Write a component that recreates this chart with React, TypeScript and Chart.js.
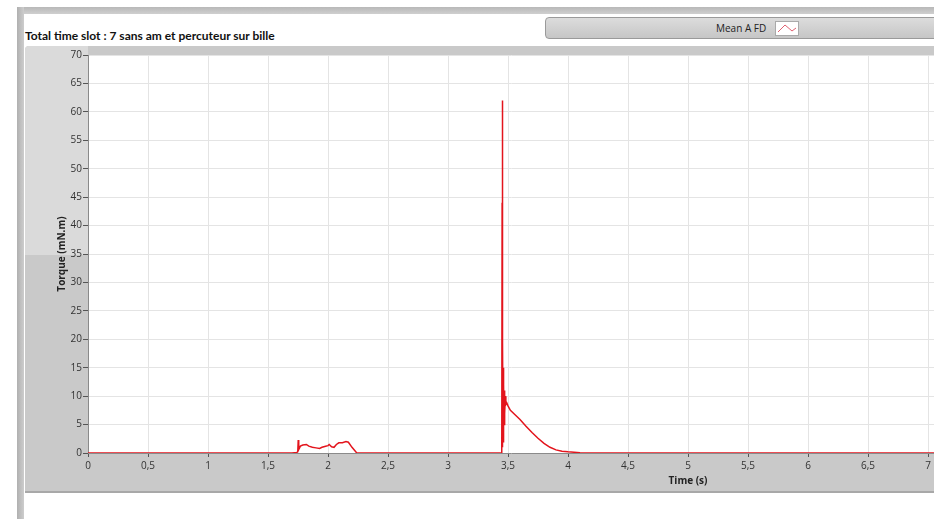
import React, { useEffect, useRef } from "react";
import { Chart, registerables } from "chart.js";

Chart.register(...registerables);

const TITLE = "Total time slot : 7 sans am et percuteur sur bille";
const SERIES_NAME = "Mean A FD";
const X_LABEL = "Time (s)";
const Y_LABEL = "Torque (mN.m)";

const X_MIN = 0;
const X_MAX = 7.05;
const X_TICKS = [0, 0.5, 1, 1.5, 2, 2.5, 3, 3.5, 4, 4.5, 5, 5.5, 6, 6.5, 7];
const Y_MIN = 0;
const Y_MAX = 70;
const Y_STEP = 5;

const timeS = [
  0, 1.7, 1.74, 1.748, 1.752, 1.756, 1.77, 1.79, 1.82, 1.84, 1.87, 1.9, 1.93,
  1.95, 1.98, 2.0, 2.01, 2.03, 2.05, 2.07, 2.09, 2.12, 2.15, 2.17, 2.2, 2.24,
  3.448, 3.451, 3.452, 3.453, 3.455, 3.457, 3.459, 3.461, 3.463, 3.465, 3.467,
  3.47, 3.474, 3.478, 3.482, 3.49, 3.5, 3.52, 3.55, 3.6, 3.65, 3.7, 3.75, 3.8,
  3.85, 3.9, 3.95, 4.0, 4.05, 4.1, 4.15, 7.05,
];

const torque = [
  0, 0, 0.1, 0.2, 2.3, 0.6, 1.2, 1.4, 1.5, 1.2, 1.0, 0.9, 0.8, 1.0, 1.2, 1.3,
  1.5, 1.1, 1.0, 1.5, 1.8, 1.8, 2.0, 1.9, 1.0, 0, 0, 44, 62, 44, 1, 19.5, 2, 15,
  4, 12, 5, 11, 7, 10, 8.5, 8.8, 8.3, 7.5, 6.9, 5.9, 4.7, 3.6, 2.6, 1.7, 1.0,
  0.55, 0.3, 0.2, 0.15, 0.05, 0, 0,
];

const FONT = "'Open Sans', 'Noto Sans', sans-serif";

export default function App() {
  const ref = useRef<HTMLCanvasElement | null>(null);

  useEffect(() => {
    const canvas = ref.current;
    if (!canvas) return;
    const points = timeS.map((t, i) => ({ x: t, y: torque[i] }));

    const decor = {
      id: "decor",
      beforeDraw(chart: any) {
        const { ctx, chartArea } = chart;
        ctx.save();
        ctx.fillStyle = "#ffffff";
        ctx.fillRect(
          chartArea.left,
          chartArea.top,
          chartArea.right - chartArea.left,
          chartArea.bottom - chartArea.top
        );
        ctx.restore();
      },
      afterDraw(chart: any) {
        const { ctx, chartArea } = chart;
        const xs = chart.scales.x;
        ctx.save();
        ctx.fillStyle = "#222";
        ctx.font = `bold 10px ${FONT}`;
        ctx.textAlign = "center";
        ctx.textBaseline = "middle";
        ctx.fillText(X_LABEL, xs.getPixelForValue(5), chartArea.bottom + 28);
        ctx.translate(chartArea.left - 26, (chartArea.top + chartArea.bottom) / 2);
        ctx.rotate(-Math.PI / 2);
        ctx.fillText(Y_LABEL, 0, 0);
        ctx.restore();
      },
    };

    const chart = new Chart(canvas, {
      type: "line",
      data: {
        datasets: [
          {
            label: SERIES_NAME,
            data: points,
            borderColor: "#e3141c",
            borderWidth: 1.5,
            pointRadius: 0,
            tension: 0,
            fill: false,
          },
        ],
      },
      options: {
        animation: false,
        responsive: false,
        maintainAspectRatio: false,
        parsing: false as any,
        layout: { padding: { top: 9, right: 0, left: 0, bottom: 0 } },
        plugins: {
          legend: { display: false },
          tooltip: { enabled: false },
          title: { display: false },
        },
        scales: {
          x: {
            type: "linear",
            min: X_MIN,
            max: X_MAX,
            afterFit: (s: any) => {
              s.height = 40;
            },
            afterBuildTicks: (s: any) => {
              s.ticks = X_TICKS.map((v) => ({ value: v }));
            },
            ticks: {
              font: { family: FONT, size: 10 },
              color: "#333",
              padding: 3,
              maxRotation: 0,
              autoSkip: false,
              callback: (v: any) => String(v).replace(".", ","),
            },
            grid: {
              color: "#e4e4e4",
              tickColor: "#555",
              tickLength: 4,
            },
            border: { color: "#8a8a8a" },
          },
          y: {
            type: "linear",
            min: Y_MIN,
            max: Y_MAX,
            afterFit: (s: any) => {
              s.width = 63;
            },
            ticks: {
              stepSize: Y_STEP,
              font: { family: FONT, size: 10 },
              color: "#333",
              padding: 1,
            },
            grid: {
              color: "#e4e4e4",
              tickColor: "#555",
              tickLength: 5,
            },
            border: { color: "#8a8a8a" },
          },
        },
      },
      plugins: [decor],
    });
    return () => chart.destroy();
  }, []);

  return (
    <div
      style={{
        position: "fixed",
        left: 0,
        top: 0,
        width: 934,
        height: 519,
        background: "#ffffff",
        overflow: "hidden",
        fontFamily: FONT,
      }}
    >
      <div
        style={{
          position: "absolute",
          left: 17,
          top: 7,
          width: 917,
          height: 7,
          background: "linear-gradient(#b8b8b8, #cfcfcf)",
        }}
      />
      <div
        style={{
          position: "absolute",
          left: 17,
          top: 7,
          width: 7,
          height: 512,
          background: "linear-gradient(90deg, #b0b0b0, #cdcdcd)",
        }}
      />
      <div
        style={{
          position: "absolute",
          left: 25,
          top: 29,
          fontFamily: "Lato, 'Open Sans', sans-serif",
          fontWeight: 700,
          fontSize: 12,
          color: "#111",
          whiteSpace: "nowrap",
          lineHeight: "14px",
        }}
      >
        {TITLE}
      </div>
      <div
        style={{
          position: "absolute",
          left: 545,
          top: 17,
          width: 400,
          height: 22,
          borderRadius: 4,
          border: "1px solid #9a9a9a",
          background: "linear-gradient(#dcdcdc, #c6c6c6)",
          boxSizing: "border-box",
        }}
      >
        <span
          style={{
            position: "absolute",
            left: 170,
            top: 3,
            fontSize: 10,
            color: "#222",
            lineHeight: "14px",
            whiteSpace: "nowrap",
          }}
        >
          {SERIES_NAME}
        </span>
        <svg
          width={24}
          height={15}
          style={{ position: "absolute", left: 229, top: 3 }}
        >
          <rect x={0.5} y={0.5} width={23} height={14} fill="#fff" stroke="#aaa" />
          <polyline
            points="3,11 10,4 17,10 21,7"
            fill="none"
            stroke="#e06070"
            strokeWidth={1}
          />
        </svg>
      </div>
      <div
        style={{
          position: "absolute",
          left: 25,
          top: 46,
          width: 909,
          height: 447,
          background: "#c9c9c9",
          borderTopLeftRadius: 4,
          borderBottom: "2px solid #a8a8a8",
          boxSizing: "border-box",
        }}
      >
        <div
          style={{
            position: "absolute",
            left: 0,
            top: 0,
            width: 63,
            height: 209,
            background: "#dadada",
            borderTopLeftRadius: 4,
          }}
        />
      </div>
      <canvas
        ref={ref}
        width={909}
        height={447}
        style={{ position: "absolute", left: 25, top: 46, width: 909, height: 447 }}
      />
    </div>
  );
}
